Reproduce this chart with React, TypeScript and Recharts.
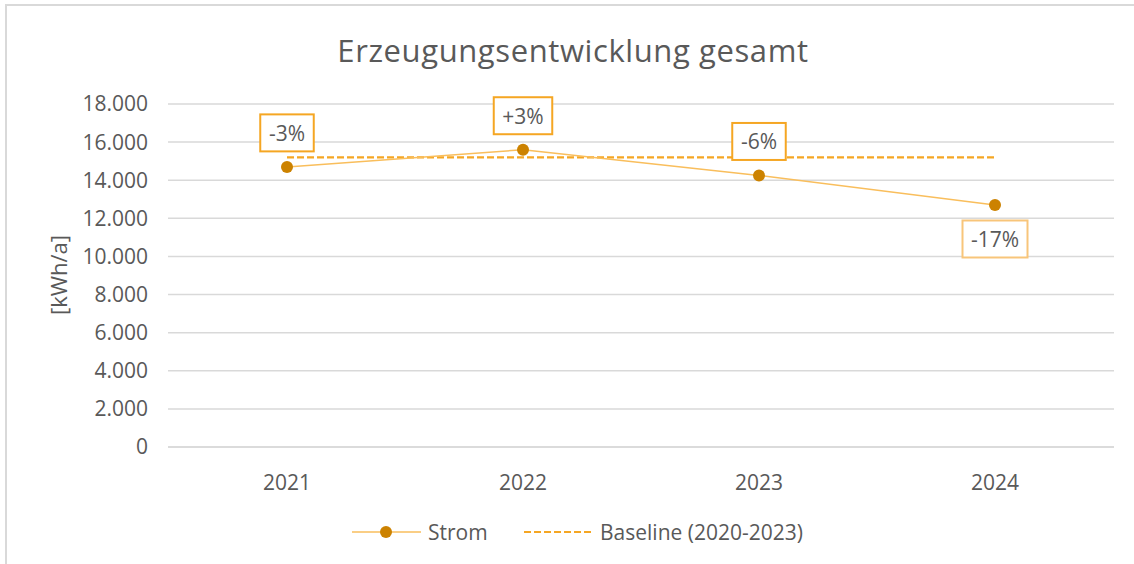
import React from "react";
import { LineChart, Line, XAxis, YAxis, CartesianGrid, LabelList } from "recharts";

const years = ["2021", "2022", "2023", "2024"];
const strom = [14700, 15600, 14250, 12700];
const baseline = [15200, 15200, 15200, 15200];
const changeLabels = ["-3%", "+3%", "-6%", "-17%"];
const yTicks = [0, 2000, 4000, 6000, 8000, 10000, 12000, 14000, 16000, 18000];

const data = years.map((y, i) => ({ year: y, strom: strom[i], baseline: baseline[i], label: changeLabels[i] }));

const FONT = "'Open Sans', sans-serif";
const TEXT = "#595959";
const GRID = "#D9D9D9";
const LINE = "#F9BE5C";
const MARK = "#CC8200";
const DASH = "#F5A623";

const fmt = (v: number) => v.toLocaleString("de-DE");

const charW: Record<string, number> = { "-": 7, "+": 12, "%": 17 };
const textWidth = (s: string) => s.split("").reduce((a, c) => a + (charW[c] ?? 11.5), 0);

const BoxLabel = (props: any) => {
  const { x, y, value, index } = props;
  const below = index === data.length - 1;
  const w = textWidth(String(value)) + 18;
  const h = 37;
  const cy = below ? y + 34 : y - 34;
  return (
    <g>
      <rect x={x - w / 2} y={cy - h / 2} width={w} height={h} fill="#fff" stroke={below ? "#F8C57A" : DASH} strokeWidth={2} />
      <text x={x} y={cy} textAnchor="middle" dominantBaseline="central" fontFamily={FONT} fontSize={21} fill={TEXT}>
        {value}
      </text>
    </g>
  );
};

const Legend = () => (
  <svg width={1134} height={30} style={{ position: "absolute", left: 0, top: 517 }}>
    <line x1={352} x2={421} y1={15} y2={15} stroke={LINE} strokeWidth={1.5} />
    <circle cx={386} cy={15} r={6} fill={MARK} />
    <text x={428} y={15} dominantBaseline="central" fontFamily={FONT} fontSize={21} fill={TEXT}>Strom</text>
    <line x1={524} x2={593} y1={15} y2={15} stroke={DASH} strokeWidth={2} strokeDasharray="7 3" />
    <text x={600} y={15} dominantBaseline="central" fontFamily={FONT} fontSize={21} fill={TEXT}>Baseline (2020-2023)</text>
  </svg>
);

export default function App() {
  return (
    <div style={{ position: "absolute", left: 0, top: 0, width: 1134, height: 564, background: "#fff", overflow: "hidden" }}>
      <div style={{ position: "absolute", left: 5, top: 4, width: 1129, height: 2, background: GRID }} />
      <div style={{ position: "absolute", left: 5, top: 4, width: 2, height: 560, background: GRID }} />
      <div style={{ position: "absolute", left: 0, top: 28, width: 1146, textAlign: "center", fontFamily: FONT, fontSize: 31, letterSpacing: 0.6, color: TEXT, whiteSpace: "nowrap", lineHeight: "44px" }}>
        Erzeugungsentwicklung gesamt
      </div>
      <div style={{ position: "absolute", left: 58, top: 275, transform: "translate(-50%, -50%) rotate(-90deg)", fontFamily: FONT, fontSize: 22, color: TEXT, whiteSpace: "nowrap" }}>
        [kWh/a]
      </div>
      <div style={{ position: "absolute", left: 0, top: 0 }}>
        <LineChart width={1134} height={564} data={data} margin={{ top: 104, right: 20, left: 0, bottom: 0 }}>
          <CartesianGrid horizontal vertical={false} stroke={GRID} strokeWidth={1.5} />
          <XAxis
            dataKey="year"
            padding={{ left: 119, right: 119 }}
            axisLine={{ stroke: GRID, strokeWidth: 1.5 }}
            tickLine={false}
            tick={{ fontFamily: FONT, fontSize: 21, fill: TEXT }}
            tickMargin={22}
            height={117}
          />
          <YAxis
            width={168}
            domain={[0, 18000]}
            ticks={yTicks}
            tickFormatter={fmt}
            axisLine={false}
            tickLine={false}
            tickMargin={14}
            interval={0}
            tick={{ fontFamily: FONT, fontSize: 21, fill: TEXT }}
          />
          <Line
            dataKey="baseline"
            stroke={DASH}
            strokeWidth={2.2}
            strokeDasharray="7 3"
            dot={false}
            activeDot={false}
            isAnimationActive={false}
          />
          <Line
            dataKey="strom"
            stroke={LINE}
            strokeWidth={1.5}
            dot={{ r: 6, fill: MARK, stroke: MARK, strokeWidth: 0 }}
            activeDot={false}
            isAnimationActive={false}
          >
            <LabelList dataKey="label" content={BoxLabel} />
          </Line>
        </LineChart>
      </div>
      <Legend />
    </div>
  );
}
